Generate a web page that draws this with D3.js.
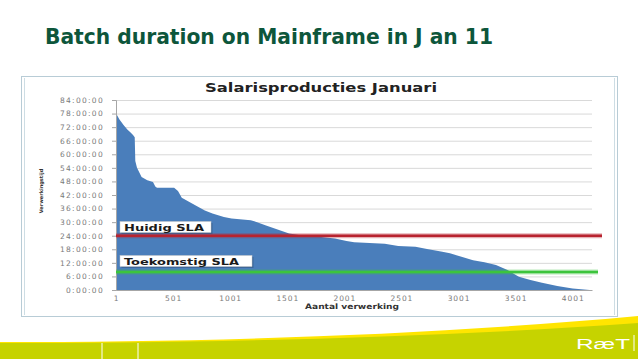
<!DOCTYPE html>
<html>
<head>
<meta charset="utf-8">
<script src="https://cdn.jsdelivr.net/npm/d3@7"></script>
<style>
  html, body { margin: 0; padding: 0; background: #fff; }
  svg { display: block; font-family: "DejaVu Sans", Verdana, sans-serif; }
</style>
</head>
<body>
<svg id="chart" width="638" height="359"></svg>
<script>
// sorted batch durations (hours) per run number
const runIndex = [1, 30, 67, 100, 124, 150, 165, 170, 185, 225, 275, 325, 345, 360, 510, 544, 577, 644, 711, 779,
  846, 946, 1013, 1181, 1231, 1315, 1416, 1517, 1617, 1718, 1919, 2020, 2087, 2355, 2473, 2624, 2725, 2859, 2926,
  3027, 3128, 3228, 3329, 3430, 3530, 3631, 3732, 3866, 4000, 4150];
const durationHours = [78.1, 75.5, 73, 71, 69.8, 68.5, 67.5, 57, 54, 50, 48.5, 47.7, 45.8, 45.2, 45.2, 43.8, 40.8,
  38.9, 37, 35.2, 33.8, 32.3, 31.6, 30.8, 30.1, 28.5, 26.7, 25, 24.2, 23.9, 22.8, 21.7, 21.1, 20.4, 19.4, 19.1,
  18.1, 16.9, 16.2, 14.7, 13.2, 12.3, 11, 8.8, 5.9, 4.4, 3.2, 1.8, 0.7, 0];
const yTicks = [0, 6, 12, 18, 24, 30, 36, 42, 48, 54, 60, 66, 72, 78, 84];
const xTicks = [1, 501, 1001, 1501, 2001, 2501, 3001, 3501, 4001];
const slaNames = ["Huidig SLA", "Toekomstig SLA"];
const slaHours = [24, 8];

const svg = d3.select('#chart');

// slide title
svg.append('text')
  .attr('x', 45).attr('y', 44)
  .attr('font-size', 22).attr('font-weight', 'bold')
  .attr('fill', '#0d563b')
  .attr('textLength', 448).attr('lengthAdjust', 'spacingAndGlyphs')
  .text('Batch duration on Mainframe in J an 11');

// chart frame
svg.append('rect').attr('x', 21.5).attr('y', 76.5).attr('width', 596).attr('height', 240)
  .attr('fill', '#fff').attr('stroke', '#b8ccd6');
svg.append('line').attr('x1', 24.5).attr('x2', 24.5).attr('y1', 78).attr('y2', 315).attr('stroke', '#cddde4');
svg.append('line').attr('x1', 614.5).attr('x2', 614.5).attr('y1', 78).attr('y2', 315).attr('stroke', '#cddde4');

const margin = {left: 116, right: 592, top: 100, bottom: 290};

const x = d3.scaleLinear().domain([1, 4170]).range([margin.left, margin.right]);
const y = d3.scaleLinear().domain([0, 84]).range([margin.bottom, margin.top]);

// gridlines
svg.append('g')
  .attr('transform', `translate(${margin.left},0)`)
  .call(d3.axisLeft(y).tickValues(yTicks).tickSize(-(margin.right - margin.left)).tickFormat(''))
  .call(g => g.select('.domain').remove())
  .call(g => g.selectAll('line').attr('stroke', '#d9d9d9'));

// area
const area = d3.area()
  .x((d, i) => x(runIndex[i]))
  .y0(y(0))
  .y1(d => y(d));
svg.append('path')
  .datum(durationHours)
  .attr('d', area)
  .attr('fill', '#4a7ebb');

// y axis
const yAxis = svg.append('g')
  .attr('transform', `translate(${margin.left},0)`)
  .call(d3.axisLeft(y).tickValues(yTicks).tickSize(4).tickPadding(8).tickFormat(d => d + ':00:00'));
yAxis.select('.domain').attr('stroke', '#a6a6a6');
yAxis.selectAll('line').attr('stroke', '#a6a6a6');
yAxis.selectAll('text').attr('font-size', 7.5).attr('fill', '#7a7a7a')
  .attr('letter-spacing', 1.3).attr('font-family', '"DejaVu Sans", sans-serif');

// x axis
const xAxis = svg.append('g')
  .attr('transform', `translate(0,${margin.bottom})`)
  .call(d3.axisBottom(x).tickValues(xTicks).tickSize(0).tickPadding(6).tickFormat(d3.format('d')));
xAxis.select('.domain').attr('stroke', '#a6a6a6');
xAxis.selectAll('text').attr('font-size', 7.5).attr('fill', '#7a7a7a')
  .attr('letter-spacing', 0.9).attr('font-family', '"DejaVu Sans", sans-serif');

// chart title
svg.append('text')
  .attr('x', 321).attr('y', 92).attr('text-anchor', 'middle')
  .attr('font-size', 12.5).attr('font-weight', 'bold').attr('fill', '#222')
  .attr('textLength', 232).attr('lengthAdjust', 'spacingAndGlyphs')
  .text('Salarisproducties Januari');

// axis titles
svg.append('text')
  .attr('transform', 'translate(43,191) rotate(-90)')
  .attr('text-anchor', 'middle')
  .attr('font-size', 5).attr('font-weight', 'bold').attr('fill', '#333')
  .text('Verwerkingstijd');
svg.append('text')
  .attr('x', 352).attr('y', 309).attr('text-anchor', 'middle')
  .attr('font-size', 7.5).attr('font-weight', 'bold').attr('fill', '#333')
  .attr('textLength', 94).attr('lengthAdjust', 'spacingAndGlyphs')
  .text('Aantal verwerking');

// SLA lines
const slaColors = ['#b8232f', '#3cc43c'];
const slaEnds = [602, 598];
slaHours.forEach((h, i) => {
  svg.append('line')
    .attr('x1', margin.left).attr('x2', slaEnds[i])
    .attr('y1', y(h)).attr('y2', y(h))
    .attr('stroke', slaColors[i]).attr('stroke-width', 5).attr('opacity', 0.35);
  svg.append('line')
    .attr('x1', margin.left).attr('x2', slaEnds[i])
    .attr('y1', y(h)).attr('y2', y(h))
    .attr('stroke', slaColors[i]).attr('stroke-width', 2.5);
});

// SLA labels
const boxX = [120, 120], boxW = [91, 132], boxY = [221.5, 255.5], textW = [80, 115];
slaNames.forEach((name, i) => {
  svg.append('rect').attr('x', boxX[i] + 1.5).attr('y', boxY[i] + 1.5).attr('width', boxW[i]).attr('height', 11)
    .attr('fill', '#2f4f75').attr('opacity', 0.5);
  svg.append('rect').attr('x', boxX[i]).attr('y', boxY[i]).attr('width', boxW[i]).attr('height', 11)
    .attr('fill', '#fff').attr('stroke', '#c8c8c8').attr('stroke-width', 0.5);
  svg.append('text')
    .attr('x', boxX[i] + 4).attr('y', boxY[i] + 9)
    .attr('font-size', 9.5).attr('font-weight', 'bold').attr('fill', '#1a1a1a')
    .attr('textLength', textW[i]).attr('lengthAdjust', 'spacingAndGlyphs')
    .text(name);
});

// footer band
svg.append('path')
  .attr('d', 'M0,342 C200,342 420,336 638,316 L638,359 L0,359 Z')
  .attr('fill', '#ffe500');
svg.append('path')
  .attr('d', 'M0,343 C200,343 430,338 638,323 L638,359 L0,359 Z')
  .attr('fill', '#c6d300');
[102, 138].forEach(px => {
  svg.append('line').attr('x1', px).attr('x2', px).attr('y1', 343).attr('y2', 359)
    .attr('stroke', '#fff').attr('stroke-width', 1);
});
svg.append('text')
  .attr('x', 576).attr('y', 349)
  .attr('font-size', 15).attr('fill', '#fff')
  .attr('font-family', '"Liberation Sans", sans-serif')
  .attr('textLength', 54).attr('lengthAdjust', 'spacingAndGlyphs')
  .text('RæT');
svg.append('line').attr('x1', 634).attr('x2', 634).attr('y1', 335).attr('y2', 351)
  .attr('stroke', '#fff').attr('stroke-width', 1);
</script>
</body>
</html>
